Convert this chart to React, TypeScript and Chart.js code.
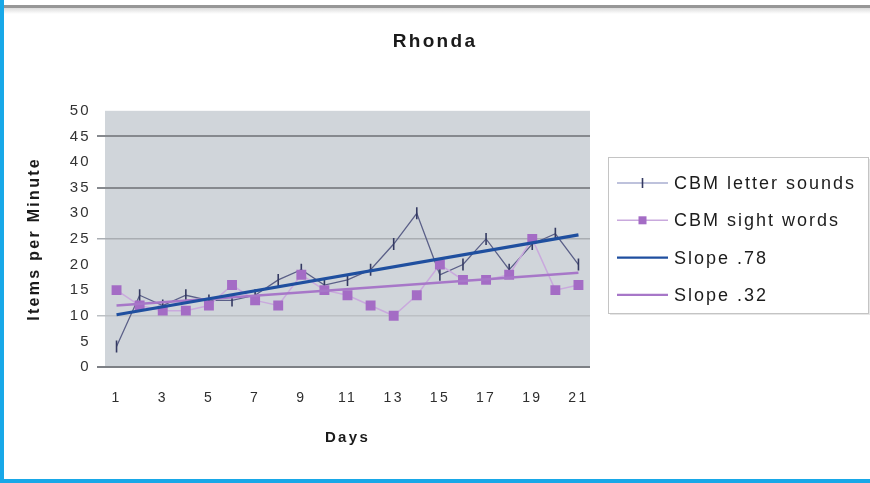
import React, { useEffect, useRef } from 'react';
import { Chart, registerables } from 'chart.js';

Chart.register(...registerables);

// Session days on the x axis
const days = ['1', '2', '3', '4', '5', '6', '7', '8', '9', '10', '11', '12', '13', '14', '15', '16', '17', '18', '19', '20', '21'];

// Items per minute for each probe
const letterSounds = [4, 14, 12, 14, 13, 13, 14, 17, 19, 16, 17, 19, 24, 30, 18, 20, 25, 19, 24, 26, 20];
const sightWords = [15, 12, 11, 11, 12, 16, 13, 12, 18, 15, 14, 12, 10, 14, 20, 17, 17, 18, 25, 15, 16];

// Trend line values at the first and last day
const letterTrendEnds = [10.2, 25.8];
const sightTrendEnds = [12.0, 18.4];

const seriesNames = ['CBM letter sounds', 'CBM sight words', 'Slope .78', 'Slope .32'];

const yMin = 0;
const yMax = 50;
const yStep = 5;

const FONT = '"Liberation Sans", Arial, sans-serif';
const TEXT_SPACING = '2.3px';

// Horizontal rules that stand out on the plot background
const ruleColor = (v: number) => {
  if (v === 0) return '#7d8085';
  if (v === 45 || v === 35) return '#86898e';
  if (v === 25) return '#a9adb2';
  if (v === 10) return '#bcc0c4';
  return 'rgba(0,0,0,0)';
};

const framePlugin = {
  id: 'frame',
  beforeDraw(chart: any) {
    const { ctx, width, height, chartArea } = chart;
    ctx.save();
    ctx.fillStyle = '#ffffff';
    ctx.fillRect(0, 0, width, height);
    // top rule with a soft shadow
    ctx.fillStyle = '#979797';
    ctx.fillRect(4, 5, width - 4, 3);
    const g = ctx.createLinearGradient(0, 8, 0, 14);
    g.addColorStop(0, '#dcdcdc');
    g.addColorStop(1, '#ffffff');
    ctx.fillStyle = g;
    ctx.fillRect(4, 8, width - 4, 6);
    // blue page edges
    ctx.fillStyle = '#18a8e8';
    ctx.fillRect(0, 0, 4, height);
    ctx.fillRect(0, height - 4, width, 4);
    // plot area fill
    ctx.fillStyle = '#d0d5da';
    ctx.fillRect(chartArea.left, chartArea.top, chartArea.right - chartArea.left, chartArea.bottom - chartArea.top);
    ctx.restore();
    ctx.letterSpacing = TEXT_SPACING;
  },
};

const sideLegendPlugin = {
  id: 'sideLegend',
  afterDraw(chart: any) {
    const { ctx } = chart;
    const box = { x: 608, y: 157, w: 260, h: 156 };
    const firstRow = 183;
    const rowGap = 37.3;
    const lineStart = 617;
    const lineEnd = 668;
    const textX = 674;

    ctx.save();
    ctx.letterSpacing = '2px';
    // box with a faint shadow
    ctx.fillStyle = '#e6e6e6';
    ctx.fillRect(box.x + 2, box.y + 2, box.w, box.h);
    ctx.fillStyle = '#ffffff';
    ctx.fillRect(box.x, box.y, box.w, box.h);
    ctx.strokeStyle = '#c4c4c4';
    ctx.lineWidth = 1;
    ctx.strokeRect(box.x + 0.5, box.y + 0.5, box.w, box.h);

    chart.data.datasets.forEach((ds: any, i: number) => {
      const y = firstRow + i * rowGap;
      ctx.strokeStyle = ds.legendLineColor || ds.borderColor;
      ctx.lineWidth = Math.min(ds.borderWidth, 2.4);
      ctx.beginPath();
      ctx.moveTo(lineStart, y);
      ctx.lineTo(lineEnd, y);
      ctx.stroke();
      const cx = (lineStart + lineEnd) / 2;
      if (ds.pointStyle === 'rect' && ds.pointRadius > 0) {
        ctx.fillStyle = ds.pointBackgroundColor;
        ctx.fillRect(cx - 4, y - 4, 8, 8);
      } else if (ds.pointStyle === 'line' && ds.pointRadius > 0) {
        ctx.strokeStyle = ds.pointBorderColor;
        ctx.lineWidth = ds.pointBorderWidth;
        ctx.beginPath();
        ctx.moveTo(cx, y - 5);
        ctx.lineTo(cx, y + 5);
        ctx.stroke();
      }
      ctx.fillStyle = '#1c1c1c';
      ctx.font = `18px ${FONT}`;
      ctx.textBaseline = 'middle';
      ctx.textAlign = 'left';
      ctx.fillText(ds.label, textX, y + 1);
    });
    ctx.restore();
  },
};

export default function App() {
  const canvasRef = useRef<HTMLCanvasElement>(null);

  useEffect(() => {
    const canvas = canvasRef.current;
    if (!canvas) return;

    const chart = new Chart(canvas, {
      type: 'line',
      data: {
        labels: days,
        datasets: [
          {
            label: seriesNames[0],
            data: letterSounds,
            borderColor: '#5b6088',
            legendLineColor: '#a9aed0',
            borderWidth: 1.3,
            pointStyle: 'line',
            rotation: 90,
            pointRadius: 6,
            pointBorderColor: '#343a62',
            pointBorderWidth: 1.6,
            tension: 0,
            order: 3,
          } as any,
          {
            label: seriesNames[1],
            data: sightWords,
            borderColor: '#c9a9dd',
            borderWidth: 1.5,
            pointStyle: 'rect',
            pointRadius: 7,
            pointBackgroundColor: '#a46cc5',
            pointBorderColor: '#a46cc5',
            pointBorderWidth: 0,
            tension: 0,
            order: 2,
          } as any,
          {
            label: seriesNames[2],
            data: [
              { x: days[0], y: letterTrendEnds[0] },
              { x: days[days.length - 1], y: letterTrendEnds[1] },
            ],
            borderColor: '#1f4f9f',
            borderWidth: 3.2,
            pointRadius: 0,
            order: 1,
          } as any,
          {
            label: seriesNames[3],
            data: [
              { x: days[0], y: sightTrendEnds[0] },
              { x: days[days.length - 1], y: sightTrendEnds[1] },
            ],
            borderColor: '#a777c8',
            borderWidth: 2.6,
            pointRadius: 0,
            order: 1,
          } as any,
        ],
      },
      options: {
        responsive: false,
        animation: false,
        layout: { padding: 0 },
        plugins: {
          legend: { display: false },
          tooltip: { enabled: false },
          title: {
            display: true,
            text: 'Rhonda',
            color: '#1a1a1a',
            font: { family: FONT, size: 19, weight: 'bold' },
            padding: { top: 30, bottom: 58 },
          },
        },
        scales: {
          x: {
            type: 'category',
            offset: true,
            grid: { display: false, drawTicks: false },
            border: { display: false },
            ticks: {
              autoSkip: false,
              maxRotation: 0,
              padding: 23,
              color: '#2e2e2e',
              font: { family: FONT, size: 14 },
              callback(this: any, value: any, index: number) {
                return index % 2 === 0 ? this.getLabelForValue(value) : '';
              },
            },
            title: {
              display: true,
              text: 'Days',
              color: '#1a1a1a',
              font: { family: FONT, size: 15, weight: 'bold' },
              padding: { top: 0, bottom: 36 },
            },
            afterFit(scale: any) {
              scale.height = 116;
            },
          },
          y: {
            min: yMin,
            max: yMax,
            ticks: {
              stepSize: yStep,
              padding: 6,
              color: '#333333',
              font: { family: FONT, size: 15 },
            },
            grid: {
              color: (c: any) => ruleColor(c.tick ? c.tick.value : -1),
              tickColor: (c: any) => ruleColor(c.tick ? c.tick.value : -1),
              lineWidth: (c: any) => (c.tick && (c.tick.value === 45 || c.tick.value === 35 || c.tick.value === 0) ? 2 : 1.5),
              tickLength: 8,
              drawTicks: true,
            },
            border: { display: false },
            title: {
              display: true,
              text: 'Items per Minute',
              color: '#1a1a1a',
              font: { family: FONT, size: 16, weight: 'bold' },
              padding: { top: 25, bottom: 0 },
            },
            afterFit(scale: any) {
              scale.width = 105;
            },
          },
          legendGutter: {
            type: 'linear',
            position: 'right',
            grid: { display: false },
            border: { display: false },
            ticks: { display: false },
            afterFit(scale: any) {
              scale.width = 280;
            },
          },
        },
      } as any,
      plugins: [framePlugin, sideLegendPlugin],
    });

    return () => chart.destroy();
  }, []);

  return (
    <div style={{ position: 'fixed', left: 0, top: 0, width: 870, height: 483 }}>
      <canvas ref={canvasRef} width={870} height={483} />
    </div>
  );
}
